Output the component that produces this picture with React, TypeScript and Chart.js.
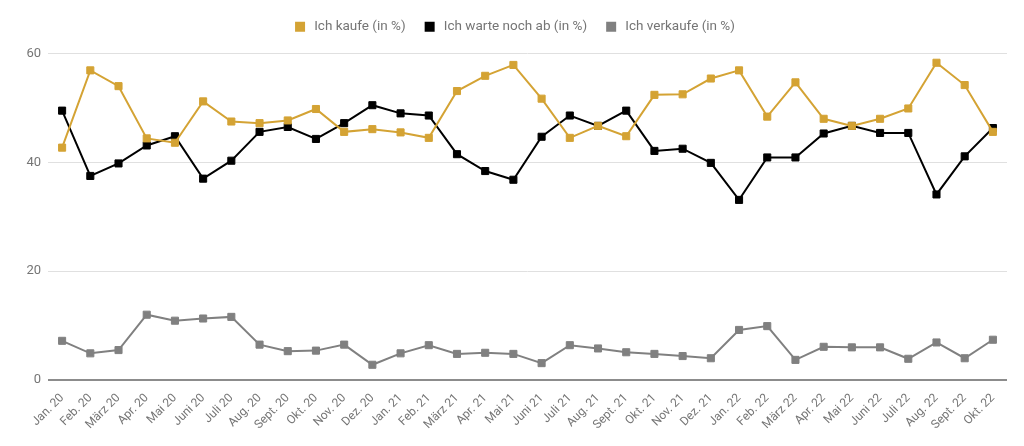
import { useEffect, useRef } from "react";
import { Chart, ChartOptions, registerables } from "chart.js";

Chart.register(...registerables);

const months = [
  "Jan. 20", "Feb. 20", "März 20", "Apr. 20", "Mai 20", "Juni 20", "Juli 20", "Aug. 20", "Sept. 20", "Okt. 20", "Nov. 20", "Dez. 20",
  "Jan. 21", "Feb. 21", "März 21", "Apr. 21", "Mai 21", "Juni 21", "Juli 21", "Aug. 21", "Sept. 21", "Okt. 21", "Nov. 21", "Dez. 21",
  "Jan. 22", "Feb. 22", "März 22", "Apr. 22", "Mai 22", "Juni 22", "Juli 22", "Aug. 22", "Sept. 22", "Okt. 22",
];

const kaufe = [
  42.7, 56.9, 54.0, 44.4, 43.6, 51.2, 47.5, 47.2, 47.7, 49.8, 45.6, 46.1,
  45.5, 44.5, 53.1, 55.9, 57.9, 51.7, 44.5, 46.7, 44.8, 52.4, 52.5, 55.4,
  56.9, 48.4, 54.7, 48.0, 46.7, 48.0, 49.9, 58.3, 54.2, 45.6,
];

const warte = [
  49.5, 37.5, 39.8, 43.1, 44.8, 37.0, 40.3, 45.6, 46.5, 44.3, 47.2, 50.5,
  49.0, 48.6, 41.5, 38.4, 36.8, 44.7, 48.6, 46.7, 49.5, 42.1, 42.5, 39.9,
  33.1, 40.9, 40.9, 45.3, 46.7, 45.4, 45.4, 34.1, 41.1, 46.3,
];

const verkaufe = [
  7.2, 4.9, 5.5, 12.0, 10.9, 11.3, 11.6, 6.5, 5.3, 5.4, 6.5, 2.8,
  4.9, 6.4, 4.8, 5.0, 4.8, 3.1, 6.4, 5.8, 5.1, 4.8, 4.4, 4.0,
  9.2, 9.9, 3.7, 6.1, 6.0, 6.0, 3.9, 6.9, 4.0, 7.4,
];

const yTicks = [0, 20, 40, 60];

const GOLD = "#d4a334";
const BLACK = "#000000";
const GRAY = "#808080";
const TEXT = "#757575";

function series(label: string, data: number[], color: string) {
  return {
    label,
    data,
    borderColor: color,
    backgroundColor: color,
    borderWidth: 2,
    pointStyle: "rect" as const,
    pointRadius: 5,
    pointBorderWidth: 1,
    pointBackgroundColor: color,
    pointBorderColor: color,
    tension: 0,
    fill: false,
  };
}

// extra room under the legend, and centre it on the whole canvas
const legendTweak = {
  id: "legendTweak",
  beforeInit(chart: any) {
    const fit = chart.legend.fit;
    chart.legend.fit = function () {
      fit.call(this);
      this.height += 10;
    };
  },
  afterLayout(chart: any) {
    chart.legend.left += 12;
    chart.legend.right += 12;
  },
};

export default function App() {
  const chartRef = useRef<HTMLCanvasElement>(null);
  const chartInstance = useRef<Chart | null>(null);

  useEffect(() => {
    document.body.style.margin = "0";
    if (!chartRef.current) return;
    if (chartInstance.current) chartInstance.current.destroy();
    const ctx = chartRef.current.getContext("2d");
    if (!ctx) return;

    const defaultLabels = Chart.defaults.plugins.legend.labels.generateLabels;

    const options: ChartOptions<"line"> = {
      responsive: true,
      maintainAspectRatio: false,
      animation: false,
      layout: { padding: { left: 0, right: 17, top: 0, bottom: 0 } },
      plugins: {
        legend: {
          position: "top",
          labels: {
            boxWidth: 8,
            boxHeight: 8,
            padding: 20,
            color: TEXT,
            font: { family: "Roboto", size: 13.5 },
            // a bit more space between the square and the text
            generateLabels: (chart) =>
              defaultLabels(chart).map((item) => ({ ...item, text: " " + item.text })),
          },
        },
        tooltip: { enabled: false },
      },
      scales: {
        x: {
          offset: true,
          grid: { display: false },
          border: { display: false },
          ticks: {
            autoSkip: false,
            maxRotation: 45,
            minRotation: 45,
            padding: 3,
            color: TEXT,
            font: { family: "Roboto", size: 12 },
          },
          afterFit: (scale) => {
            scale.height = 66;
          },
        },
        y: {
          min: 0,
          max: 60,
          afterBuildTicks: (scale) => {
            scale.ticks = yTicks.map((v) => ({ value: v }));
          },
          grid: {
            drawTicks: false,
            color: (c) => (c.tick && c.tick.value === 0 ? "#8c8c8c" : "#e0e0e0"),
            lineWidth: (c) => (c.tick && c.tick.value === 0 ? 2 : 1),
          },
          border: { display: false },
          ticks: {
            padding: 7,
            color: TEXT,
            font: { family: "Roboto", size: 13 },
          },
          afterFit: (scale) => {
            scale.width = 48;
          },
        },
      },
    };

    chartInstance.current = new Chart(ctx, {
      type: "line",
      data: {
        labels: months,
        datasets: [
          series("Ich kaufe (in %)", kaufe, GOLD),
          series("Ich warte noch ab (in %)", warte, BLACK),
          series("Ich verkaufe (in %)", verkaufe, GRAY),
        ],
      },
      options,
      plugins: [legendTweak],
    });

    return () => {
      if (chartInstance.current) {
        chartInstance.current.destroy();
        chartInstance.current = null;
      }
    };
  }, []);

  return (
    <div style={{ width: 1024, height: 446, position: "relative" }}>
      <canvas ref={chartRef}></canvas>
    </div>
  );
}
